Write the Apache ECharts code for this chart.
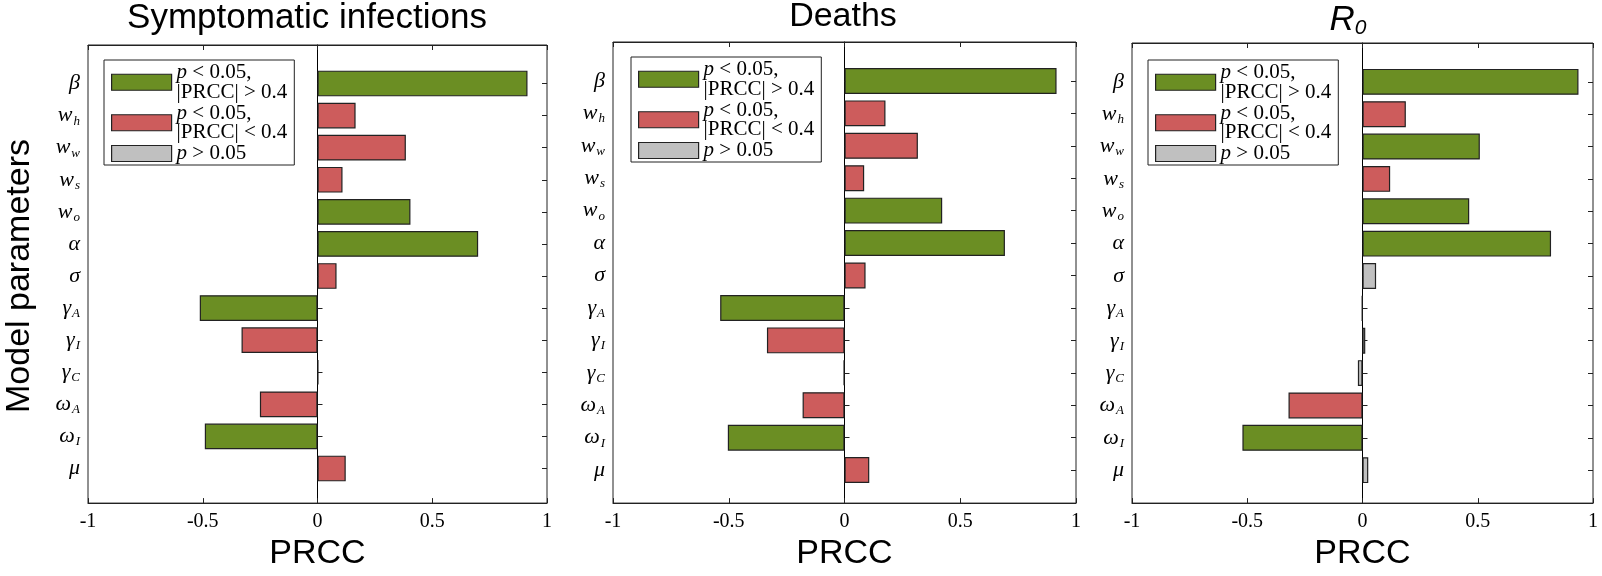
<!DOCTYPE html>
<html>
<head>
<meta charset="utf-8">
<script src="https://cdn.jsdelivr.net/npm/echarts@6/dist/echarts.min.js"></script>
<style>
    html, body { margin: 0; background: #fff; }
    #chart { width: 1602px; height: 576px; }
</style>
</head>
<body>
<div id="chart"></div>
<script>
// 参数 (first char = symbol, rest = subscript)
const params = ['β', 'wh', 'ww', 'ws', 'wo', 'α', 'σ', 'γA', 'γI', 'γC', 'ωA', 'ωI', 'μ']
const xTicks = [-1, -0.5, 0, 0.5, 1]

const infections = [0.915, 0.166, 0.385, 0.109, 0.405, 0.700, 0.083, -0.513, -0.331, 0.004, -0.251, -0.491, 0.123]
const infectionsSig = ['high', 'low', 'low', 'low', 'high', 'high', 'low', 'high', 'low', 'ns', 'low', 'high', 'low']

const deaths = [0.916, 0.177, 0.317, 0.085, 0.422, 0.693, 0.091, -0.537, -0.335, -0.004, -0.181, -0.504, 0.107]
const deathsSig = ['high', 'low', 'low', 'low', 'high', 'high', 'low', 'high', 'low', 'ns', 'low', 'high', 'low']

const r0 = [0.937, 0.188, 0.509, 0.120, 0.463, 0.818, 0.059, -0.003, 0.012, -0.020, -0.321, -0.521, 0.025]
const r0Sig = ['high', 'low', 'high', 'low', 'high', 'high', 'ns', 'ns', 'ns', 'ns', 'low', 'high', 'ns']

const classes = ['high', 'low', 'ns']
const classColors = { high: '#6b8e23', low: '#cd5c5c', ns: '#c0c0c0' }
const classText = {
    high: '{i|p} < 0.05,\n|PRCC| > 0.4',
    low: '{i|p} < 0.05,\n|PRCC| < 0.4',
    ns: '{i|p} > 0.05'
}

const SERIF = '"Liberation Serif", "DejaVu Serif", serif'
const SANS = '"Liberation Sans", Arial, sans-serif'
const EDGE = '#222'

// 面板位置 [left, top, right, bottom]
const panels = [
    { values: infections, sig: infectionsSig, box: [88, 45, 547, 507], legend: [104, 60] },
    { values: deaths, sig: deathsSig, box: [613, 42, 1076, 509], legend: [631, 57] },
    { values: r0, sig: r0Sig, box: [1132, 43, 1593, 509], legend: [1148, 60] }
]

const grid = [], xAxis = [], yAxis = [], series = [], legend = []

panels.forEach((p, i) => {
    const [l, t, r, b] = p.box
    const w = r - l, h = b - t
    // frame grid
    grid.push({ left: l, top: t, width: w, height: h, show: true, borderColor: EDGE, borderWidth: 1, backgroundColor: 'transparent' })
    // bar grid: 13 slots inside a 14.4 slot range
    grid.push({ left: l, top: t + h * 0.7 / 14.4, width: w, height: h * 13 / 14.4 })

    const xBase = {
        type: 'value', min: xTicks[0], max: xTicks[xTicks.length - 1], interval: xTicks[1] - xTicks[0],
        splitLine: { show: false },
        axisLine: { show: true, onZero: false, lineStyle: { color: EDGE, width: 1 } },
        axisTick: { show: true, inside: true, length: 5, lineStyle: { color: EDGE } }
    }
    xAxis.push(Object.assign({}, xBase, {
        gridIndex: 2 * i, position: 'bottom',
        axisLabel: { color: '#000', fontFamily: SERIF, fontSize: 20, margin: 9 },
        name: 'PRCC', nameLocation: 'middle', nameGap: 33,
        nameTextStyle: { color: '#000', fontFamily: SANS, fontSize: 34 }
    }))
    xAxis.push(Object.assign({}, xBase, { gridIndex: 2 * i, position: 'top', axisLabel: { show: false } }))
    xAxis.push({ type: 'value', gridIndex: 2 * i + 1, min: xTicks[0], max: xTicks[xTicks.length - 1], show: false })

    // zero line
    yAxis.push({
        type: 'value', gridIndex: 2 * i, min: 0, max: 1,
        axisLine: { show: true, onZero: true, lineStyle: { color: '#000', width: 1 } },
        axisTick: { show: false }, axisLabel: { show: false }, splitLine: { show: false }
    })
    const yBase = {
        type: 'category', gridIndex: 2 * i + 1, data: params, inverse: true,
        axisLine: { show: false },
        axisTick: { show: true, inside: true, alignWithLabel: true, length: 5, lineStyle: { color: EDGE } }
    }
    yAxis.push(Object.assign({}, yBase, {
        position: 'left',
        axisLabel: {
            margin: 8,
            formatter: v => v.length > 1 ? `{m|${v[0]}}{s|${v.slice(1)}}` : `{m|${v}}`,
            rich: {
                m: { fontFamily: SERIF, fontStyle: 'italic', fontSize: 22, color: '#000' },
                s: { fontFamily: SERIF, fontStyle: 'italic', fontSize: 13, color: '#000', padding: [11, 0, 0, 1] }
            }
        }
    }))
    yAxis.push(Object.assign({}, yBase, { position: 'right', axisLabel: { show: false } }))

    classes.forEach(c => {
        series.push({
            name: c, type: 'bar', stack: 'p' + i,
            xAxisIndex: 3 * i + 2, yAxisIndex: 3 * i + 1,
            barCategoryGap: '20%',
            itemStyle: { color: classColors[c], borderColor: EDGE, borderWidth: 1.2 },
            data: p.values.map((v, k) => p.sig[k] === c ? v : '-')
        })
    })

    legend.push({
        data: classes, left: p.legend[0], top: p.legend[1],
        orient: 'vertical', icon: 'rect', itemWidth: 60, itemHeight: 16, itemGap: 0,
        padding: [2, 7, 1, 7], borderColor: EDGE, borderWidth: 1, backgroundColor: '#fff',
        selectedMode: false,
        itemStyle: { borderColor: EDGE, borderWidth: 1.2 },
        formatter: name => classText[name],
        textStyle: {
            color: '#000', fontFamily: SERIF, fontSize: 21, lineHeight: 19.5,
            rich: { i: { fontFamily: SERIF, fontStyle: 'italic', fontSize: 21, lineHeight: 19.5, color: '#000' } }
        }
    })
})

const chart = echarts.init(document.getElementById('chart'))
chart.setOption({
    animation: false,
    grid, xAxis, yAxis, series, legend,
    graphic: [
        { type: 'text', x: 307, y: 18, style: { text: 'Symptomatic infections', fontFamily: SANS, fontSize: 35, fill: '#000', align: 'center', verticalAlign: 'middle' } },
        { type: 'text', x: 843, y: 17, style: { text: 'Deaths', fontFamily: SANS, fontSize: 34, fill: '#000', align: 'center', verticalAlign: 'middle' } },
        {
            type: 'text', x: 1348, y: 20, style: {
                text: '{r|R}{s|0}', align: 'center', verticalAlign: 'middle',
                rich: {
                    r: { fontFamily: SANS, fontStyle: 'italic', fontSize: 35, fill: '#000' },
                    s: { fontFamily: SANS, fontStyle: 'italic', fontSize: 21, fill: '#000', padding: [16, 0, 0, 0] }
                }
            }
        },
        { type: 'text', x: 20, y: 276, rotation: Math.PI / 2, style: { text: 'Model parameters', fontFamily: SANS, fontSize: 34, fill: '#000', align: 'center', verticalAlign: 'middle' } }
    ]
})
</script>
</body>
</html>
